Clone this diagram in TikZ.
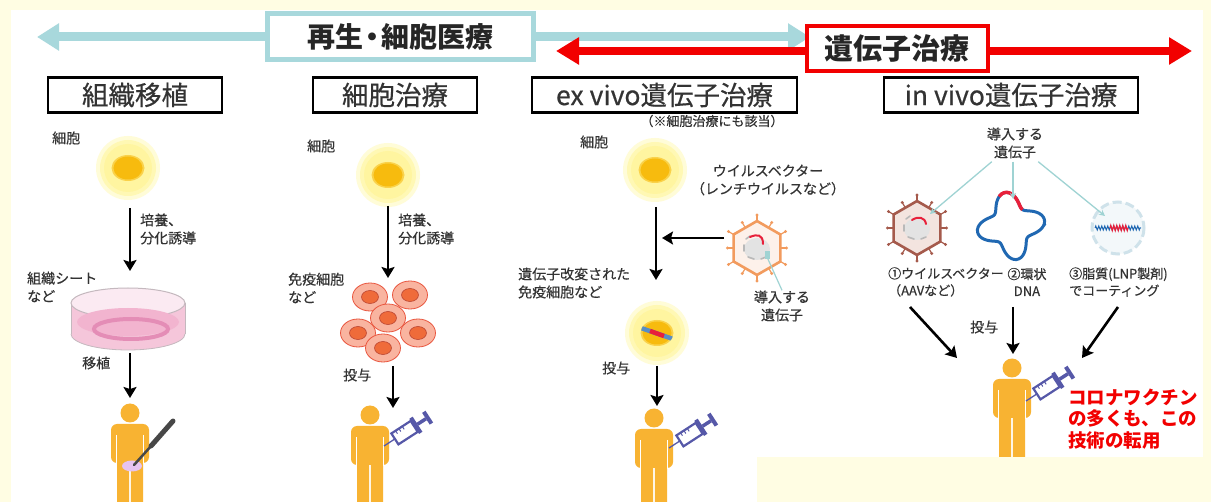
\documentclass[tikz,border=0pt]{standalone}
\usepackage{fontspec}
\setmainfont{Noto Sans CJK JP}
\newfontfamily\medfont{Noto Sans CJK JP}[FakeBold=0.5]
\usetikzlibrary{arrows.meta,decorations.pathmorphing}

\definecolor{bgyel}{HTML}{FFFDE3}
\definecolor{lblue}{HTML}{A8D8DC}
\definecolor{rred}{HTML}{F20000}
\definecolor{txt}{HTML}{333333}
\definecolor{personc}{HTML}{F8B332}
\definecolor{syr}{HTML}{5658A8}
\definecolor{glowA}{HTML}{FFFCD8}
\definecolor{glowB}{HTML}{FFF8B4}
\definecolor{glowC}{HTML}{FFF5A0}
\definecolor{nuc}{HTML}{F7BB0E}
\definecolor{nucedge}{HTML}{FAD24A}
\definecolor{cellfill}{HTML}{F9B4A0}
\definecolor{celledge}{HTML}{E9563F}
\definecolor{cellnuc}{HTML}{EF6B3A}
\definecolor{dishwall}{HTML}{F5C6DA}
\definecolor{dishtop}{HTML}{FBEAF2}
\definecolor{dishliq}{HTML}{F2B4CF}
\definecolor{dishring}{HTML}{E48DB6}
\definecolor{dishrim}{HTML}{C4B8BE}
\definecolor{vorange}{HTML}{F29B5E}
\definecolor{vorfill}{HTML}{FDF1EA}
\definecolor{vbrown}{HTML}{A55A4C}
\definecolor{vbrfill}{HTML}{F3E4DF}
\definecolor{dnablue}{HTML}{2068B2}
\definecolor{genered}{HTML}{E8203A}
\definecolor{lnpring}{HTML}{CFE2EA}
\definecolor{thinblue}{HTML}{9FD3D3}
\definecolor{scalpel}{HTML}{474747}
\definecolor{woundpink}{HTML}{E6C3F0}

\tikzset{
  lbl/.style={font=\medfont\fontsize{14}{18}\selectfont, text=txt, inner sep=0pt, align=left},
  smalllbl/.style={font=\medfont\fontsize{13}{17}\selectfont, text=txt, inner sep=0pt},
  titlebox/.style={draw=black, line width=2.2pt, fill=white, minimum height=35pt,
    font=\medfont\fontsize{26.5}{26.5}\selectfont, text=txt, inner sep=0pt},
  flow/.style={draw=black, line width=2.6pt, -{Stealth[length=11pt,width=13pt,inset=2pt]}},
  geneline/.style={draw=thinblue, line width=1.3pt, -{Stealth[length=6pt,width=6pt]}},
  pics/person/.style={code={
    \fill[personc] (0,0) circle (9.5);
    \fill[personc, rounded corners=6pt] (-19,11) rectangle (19,50);
    \fill[personc, rounded corners=3pt] (-13,40) rectangle (-0.8,92);
    \fill[personc, rounded corners=3pt] (0.8,40) rectangle (13,92);
    \draw[white, line width=1.3pt] (-13.5,22) -- (-13.5,51) (13.5,22) -- (13.5,51);
  }},
  pics/syringe/.style={code={
    \draw[syr, line width=1.3pt] (0,0) -- (13,0);
    \draw[syr, line width=2.2pt, fill=white] (13,-6.5) rectangle (36,6.5);
    \draw[syr, line width=1pt] (18,-6.5) -- (18,-3) (22,-6.5) -- (22,-3) (26,-6.5) -- (26,-3);
    \fill[syr] (36,-9) rectangle (40,9);
    \draw[syr, line width=3.5pt] (40,0) -- (50,0);
    \fill[syr] (50,-7) rectangle (54,7);
  }},
  pics/glowcell/.style={code={
    \fill[glowA] (0,0) circle (32);
    \fill[glowB] (0,0) circle (28);
    \fill[glowC] (0,0) circle (24);
    \fill[nucedge] (0,0) ellipse (16.5 and 13);
    \fill[nuc] (0,0) ellipse (14.5 and 11.5);
  }},
  pics/redcell/.style={code={
    \filldraw[fill=cellfill, draw=celledge, line width=0.8pt] (0,0) ellipse (17.5 and 14);
    \filldraw[fill=cellnuc, draw=celledge!80!black, line width=0.6pt] (0,0) ellipse (8.5 and 6.5);
  }},
  pics/virus/.style 2 args={code={
    \foreach \a in {30,90,...,330} {
      \draw[#1, line width=1.2pt] (\a:27) -- (\a:33);
      \fill[#1] (\a:33) circle (1.6);
    }
    \foreach \a in {0,60,...,300} {
      \draw[#1, line width=1.2pt] (\a:23.4) -- (\a:29.5);
      \fill[#1] (\a:29.5) circle (1.6);
    }
    \filldraw[fill=#2, draw=#1, line width=2.6pt, line join=round]
      (30:27) -- (90:27) -- (150:27) -- (210:27) -- (270:27) -- (330:27) -- cycle;
    \fill[gray!22] (0,1) ellipse (13 and 11);
    \draw[gray!55, line width=1.6pt, line cap=round]
      (-13,-3) -- (-13,3) (-9,9) -- (-3,11) (4,11) -- (9,9) (-11,-9) -- (-7,-12);
  }},
}

\begin{document}
\begin{tikzpicture}[x=1pt, y=-1pt]
  \useasboundingbox (0,0) rectangle (1211,502);
  \clip (0,0) rectangle (1211,502);

  % frame
  \fill[bgyel] (0,0) rectangle (1211,502);
  \fill[white] (11,10) rectangle (1203,502);

  % top bands: regenerative / cell medicine and gene therapy
  \coordinate (lbL) at (37,37);
  \coordinate (lbR) at (810,37);
  \draw[lblue, line width=9pt, {Triangle[length=22pt,width=26pt]}-{Triangle[length=22pt,width=26pt]}] (lbL) -- (lbR);
  \node[draw=lblue, line width=5pt, fill=white, minimum width=266pt, minimum height=46pt,
        font=\fontsize{28}{28}\selectfont\bfseries, text=black!85] (regen) at (400,37) {再生\kern-5pt・\kern-5pt細胞医療};
  \coordinate (rdL) at (556,51);
  \coordinate (rdR) at (1192,51);
  \draw[rred, line width=8pt, {Triangle[length=23pt,width=26pt]}-{Triangle[length=23pt,width=26pt]}] (rdL) -- (rdR);
  \node[draw=rred, line width=4pt, fill=white, minimum width=181pt, minimum height=45pt,
        font=\fontsize{29}{29}\selectfont\bfseries, text=black!85] (gene) at (897,49) {遺伝子治療};

  % column headings
  \node[titlebox, minimum width=174pt] (tA) at (135,95) {組織移植};
  \node[titlebox, minimum width=164pt] (tB) at (395,95) {細胞治療};
  \node[titlebox, minimum width=265pt] (tC) at (664.5,95) {ex vivo遺伝子治療};
  \node[titlebox, minimum width=254pt] (tD) at (1011,95) {in vivo遺伝子治療};
  \node[font=\medfont\fontsize{13}{13}\selectfont, text=txt, inner sep=0pt] (note) at (712,121) {（※細胞治療にも該当）};

  % ---- tissue transplantation ----
  \node[lbl, anchor=west] (l1cell) at (52,138) {細胞};
  \pic at (128,168) {glowcell};
  \coordinate (a1s) at (130,208);
  \coordinate (a1e) at (130,271);
  \draw[flow] (a1s) -- (a1e);
  \node[lbl, anchor=west] (l1cult) at (140,229) {培養、\\分化誘導};
  \node[lbl, anchor=west] (l1sheet) at (27,287) {組織シート\\など};
  % petri dish
  \fill[dishwall] (128,334) ellipse (57 and 16);
  \fill[dishwall] (71,303) rectangle (185,334);
  \draw[dishrim, line width=0.8pt] (71,303) -- (71,334) (185,303) -- (185,334);
  \draw[dishrim, line width=0.8pt] (71,334) arc[start angle=180, end angle=0, x radius=57, y radius=16];
  \filldraw[fill=dishtop, draw=dishrim, line width=1pt] (128,303) ellipse (57 and 15);
  \fill[dishliq] (128,322) ellipse (51 and 14);
  \draw[dishring, line width=4pt] (131,329) ellipse (37 and 10);
  \node[lbl, anchor=west] (l1graft) at (82,363) {移植};
  \coordinate (a2s) at (130,353);
  \coordinate (a2e) at (130,398);
  \draw[flow] (a2s) -- (a2e);
  \pic at (130,413) {person};
  \fill[woundpink] (132,466) ellipse (10 and 5.5);
  \draw[scalpel, line width=2.5pt, line cap=round] (134,465) -- (152,445);
  \draw[scalpel, line width=5pt, line cap=round] (151,446) -- (173,421);

  % ---- cell therapy ----
  \node[lbl, anchor=west] (l2cell) at (307,146) {細胞};
  \pic at (388,175) {glowcell};
  \coordinate (b1s) at (388,206);
  \coordinate (b1e) at (388,278);
  \draw[flow] (b1s) -- (b1e);
  \node[lbl, anchor=west] (l2cult) at (398,229) {培養、\\分化誘導};
  \node[lbl, anchor=west] (l2imm) at (288,288) {免疫細胞\\など};
  \pic at (370,297) {redcell};
  \pic at (410,295) {redcell};
  \pic at (358,333) {redcell};
  \pic at (418,333) {redcell};
  \pic at (383,348) {redcell};
  \pic at (388,318) {redcell};
  \node[lbl, anchor=west] (l2give) at (343,375) {投与};
  \coordinate (b2s) at (393,366);
  \coordinate (b2e) at (393,408);
  \draw[flow] (b2s) -- (b2e);
  \pic at (370,415) {person};
  \pic[rotate=33] at (384,446) {syringe};

  % ---- ex vivo gene therapy ----
  \node[lbl, anchor=west] (l3cell) at (580,142) {細胞};
  \pic at (655,170) {glowcell};
  \node[lbl, align=center] (l3vec) at (768,180) {ウイルスベクター\\（レンチウイルスなど）};
  \coordinate (c1s) at (656,207);
  \coordinate (c1e) at (656,280);
  \draw[flow] (c1s) -- (c1e);
  \pic at (757,248) {virus={vorange}{vorfill}};
  \draw[genered, line width=2pt, line cap=round] (750,237) .. controls (757,234) and (763,234) .. (763,244);
  \fill[thinblue] (765,251) rectangle (770,259);
  \coordinate (c2s) at (724,238);
  \coordinate (c2e) at (662,238);
  \draw[flow] (c2s) -- (c2e);
  \node[lbl, align=center] (l3gene) at (782,306) {導入する\\遺伝子};
  \coordinate (vgene) at (767,257);
  \draw[thinblue, line width=1.2pt] (vgene) -- (l3gene.north);
  \node[lbl, anchor=west] (l3mod) at (518,283) {遺伝子改変された\\免疫細胞など};
  \pic at (657,333) {glowcell};
  \begin{scope}
    \clip (657,333) ellipse (16.5 and 13);
    \draw[dnablue!75, line width=4.5pt] (641,328) -- (673,339);
    \draw[genered, line width=4.5pt] (650,331) -- (664,336);
  \end{scope}
  \node[lbl, anchor=west] (l3give) at (602,368) {投与};
  \coordinate (c3s) at (657,366);
  \coordinate (c3e) at (657,406);
  \draw[flow] (c3s) -- (c3e);
  \pic at (654,418) {person};
  \pic[rotate=33] at (669,448) {syringe};

  % ---- in vivo gene therapy ----
  \node[lbl, align=center] (l4gene) at (1015,143) {導入する\\遺伝子};
  % AAV vector
  \pic at (917,228) {virus={vbrown}{vbrfill}};
  \draw[genered, line width=2pt, line cap=round] (912,220) .. controls (918,216) and (925,217) .. (926,224);
  % circular DNA
  \draw[dnablue, line width=3pt] plot[domain=0:360, samples=90, smooth cycle]
    ({1011+(27+7*cos(4*\x+40))*cos(\x)}, {226+(27+7*cos(4*\x+40))*sin(\x)});
  \draw[genered, line width=3.5pt] plot[domain=-112:-55, samples=20, smooth]
    ({1011+(27+7*cos(4*\x+40))*cos(\x)}, {226+(27+7*cos(4*\x+40))*sin(\x)});
  % lipid nanoparticle
  \fill[lnpring!25] (1118,228) circle (26);
  \draw[lnpring, line width=3pt, dash pattern=on 9pt off 4pt] (1118,228) circle (26);
  \draw[dnablue, line width=1pt, decorate, decoration={zigzag, segment length=3pt, amplitude=2pt}] (1095,228) -- (1141,228);
  \draw[genered, line width=1.2pt, decorate, decoration={zigzag, segment length=3pt, amplitude=2.5pt}] (1110,228) -- (1128,228);
  \coordinate (g1) at (930,214);
  \coordinate (g2) at (1013,199);
  \coordinate (g3) at (1105,216);
  \draw[geneline] (l4gene.south west) ++(5,3) -- (g1);
  \draw[geneline] (l4gene.south) ++(-2,3) -- (g2);
  \draw[geneline] (l4gene.south east) ++(-5,3) -- (g3);
  \node[smalllbl, anchor=west, align=left] (l4v) at (888,282) {①ウイルスベクター\\（AAVなど）};
  \node[smalllbl, align=center] (l4d) at (1027,282) {②環状\\DNA};
  \node[smalllbl, anchor=west, align=left] (l4l) at (1069,282) {③脂質(LNP製剤)\\でコーティング};
  \node[lbl, anchor=west] (l4give) at (970,327) {投与};
  \coordinate (d1s) at (910,307);
  \coordinate (d1e) at (957,358);
  \coordinate (d2s) at (1013,307);
  \coordinate (d2e) at (1013,354);
  \coordinate (d3s) at (1118,307);
  \coordinate (d3e) at (1082,358);
  \draw[flow] (d1s) -- (d1e);
  \draw[flow] (d2s) -- (d2e);
  \draw[flow] (d3s) -- (d3e);
  \pic at (1012,368) {person};
  \pic[rotate=33] at (1026,401) {syringe};
  \node[font=\fontsize{18.5}{21.5}\selectfont\bfseries, text=rred, anchor=west, align=left, inner sep=0pt]
    (l4red) at (1068,419) {コロナワクチン\\の多くも、この\\技術の転用};

  % bottom-right margin strip
  \fill[bgyel] (757,457) rectangle (1211,502);
\end{tikzpicture}
\end{document}
